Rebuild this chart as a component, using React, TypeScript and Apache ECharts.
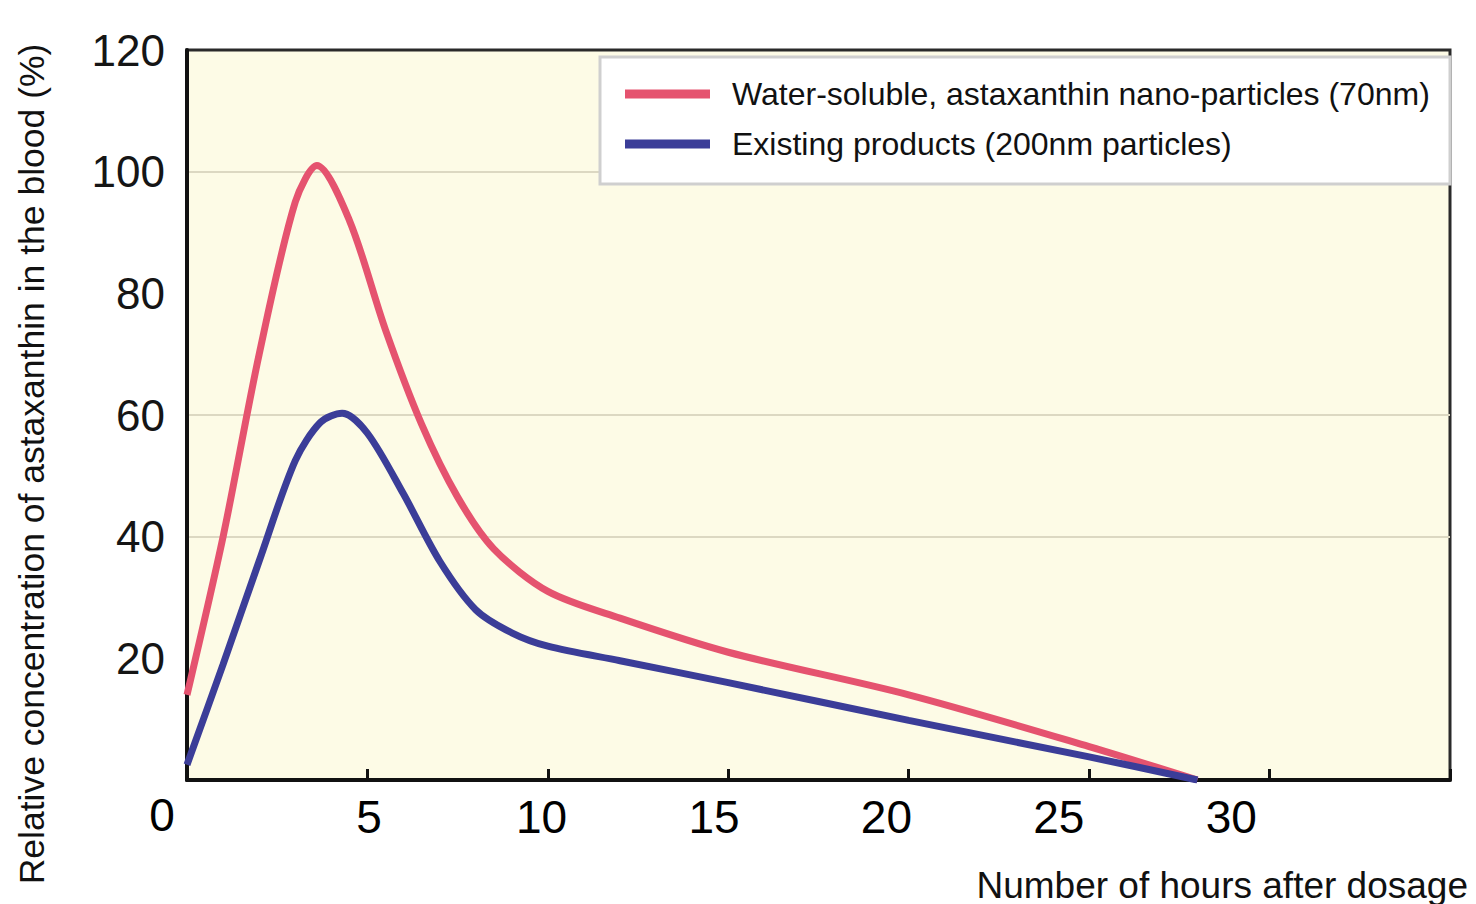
import React, { useEffect, useRef } from "react";
import * as echarts from "echarts";

// ---- data ----
const seriesNames = [
  "Water-soluble, astaxanthin nano-particles (70nm)",
  "Existing products (200nm particles)",
];
const nanoHours = [0, 1, 2, 3, 3.6, 4.5, 5.5, 6.5, 7.5, 8.5, 10, 12, 15, 20, 25, 28];
const nanoValues = [14, 40, 70, 95, 101, 92, 74, 58.5, 46.5, 38, 31, 26.6, 21, 14, 5.5, 0];
const existingHours = [0, 1, 2, 3, 3.7, 4.3, 5, 6, 7, 8, 9, 10, 12, 15, 20, 25, 28];
const existingValues = [2.5, 19, 36, 52.5, 58.8, 60.3, 57, 47, 36, 28, 24.2, 22, 19.6, 16, 9.8, 3.8, 0];
const xLabelValues = [5, 10, 15, 20, 25, 30];
const yTickLabels = ["", "20", "40", "60", "80", "100", "120"];
const yTitle = "Relative concentration of astaxanthin in the blood (%)";
const xTitle = "Number of hours after dosage";
const originLabel = "0";

const RED = "#e5536f";
const BLUE = "#3b3d98";
const GRID_C = "#dcd8c2";

export default function App() {
  const ref = useRef<HTMLDivElement>(null);
  useEffect(() => {
    if (!ref.current) return;
    const chart = echarts.init(ref.current, undefined, { renderer: "svg" });
    const pairs = (xs: number[], ys: number[]) => xs.map((x, i) => [x, ys[i]]);
    chart.setOption({
      animation: false,
      backgroundColor: "#ffffff",
      grid: {
        left: 187,
        top: 50,
        right: 26,
        bottom: 124,
        show: true,
        backgroundColor: "#fdfbe6",
        borderColor: "#2a2a2a",
        borderWidth: 3,
      },
      legend: {
        orient: "vertical",
        left: 600,
        top: 57,
        z: 4,
        padding: [19, 20, 20, 25],
        itemWidth: 85,
        itemHeight: 9,
        itemGap: 14,
        icon: "rect",
        textStyle: {
          fontFamily: "Liberation Sans",
          fontSize: 32,
          color: "#111",
          lineHeight: 36,
          padding: [0, 0, 0, 17],
        },
        data: seriesNames,
      },
      xAxis: [
        {
          type: "value",
          min: 0,
          max: 35,
          interval: 5,
          axisLine: { show: true, lineStyle: { color: "#111", width: 4 } },
          axisTick: { show: true, inside: true, length: 11, lineStyle: { color: "#111", width: 3 } },
          splitLine: { show: false },
          axisLabel: { show: false },
        },
        {
          type: "value",
          position: "bottom",
          min: -0.278,
          max: 36.34,
          axisLine: { show: false },
          axisTick: { show: false },
          splitLine: { show: false },
          axisLabel: {
            margin: 14,
            fontFamily: "Liberation Sans",
            fontSize: 46,
            color: "#000",
            customValues: xLabelValues,
          },
        },
      ],
      yAxis: {
        type: "value",
        min: 0,
        max: 120,
        interval: 20,
        axisLine: { show: true, lineStyle: { color: "#111", width: 4 } },
        axisTick: { show: false },
        splitLine: {
          show: true,
          lineStyle: {
            color: ["transparent", "transparent", GRID_C, GRID_C, "transparent", GRID_C, "transparent"],
            width: 2,
          },
        },
        axisLabel: {
          margin: 22,
          fontFamily: "Liberation Sans",
          fontSize: 44,
          color: "#151515",
          formatter: (v: number) => yTickLabels[Math.round(v / 20)] ?? "",
        },
      },
      graphic: [
        {
          type: "rect",
          z: 1,
          shape: { x: 600, y: 57, width: 850, height: 127 },
          style: { fill: "#ffffff", stroke: "#cfcfcf", lineWidth: 3 },
        },
        {
          type: "text",
          x: 32,
          y: 464,
          rotation: Math.PI / 2,
          style: {
            text: yTitle,
            fontFamily: "Liberation Sans",
            fontSize: 35.5,
            fill: "#111",
            align: "center",
            verticalAlign: "middle",
          },
        },
        {
          type: "text",
          x: 1468,
          y: 885,
          style: {
            text: xTitle,
            fontFamily: "Liberation Sans",
            fontSize: 37,
            fill: "#111",
            align: "right",
            verticalAlign: "middle",
          },
        },
        {
          type: "text",
          x: 162,
          y: 815,
          style: {
            text: originLabel,
            fontFamily: "Liberation Sans",
            fontSize: 46,
            fill: "#000",
            align: "center",
            verticalAlign: "middle",
          },
        },
      ],
      series: [
        {
          name: seriesNames[0],
          type: "line",
          xAxisIndex: 0,
          data: pairs(nanoHours, nanoValues),
          smooth: 0.3,
          symbol: "none",
          lineStyle: { color: RED, width: 7 },
          itemStyle: { color: RED },
          z: 3,
        },
        {
          name: seriesNames[1],
          type: "line",
          xAxisIndex: 0,
          data: pairs(existingHours, existingValues),
          smooth: 0.3,
          symbol: "none",
          lineStyle: { color: BLUE, width: 7 },
          itemStyle: { color: BLUE },
          z: 4,
        },
      ],
    });
    return () => chart.dispose();
  }, []);
  return (
    <div
      ref={ref}
      style={{ position: "fixed", left: 0, top: 0, width: 1476, height: 904 }}
    />
  );
}
